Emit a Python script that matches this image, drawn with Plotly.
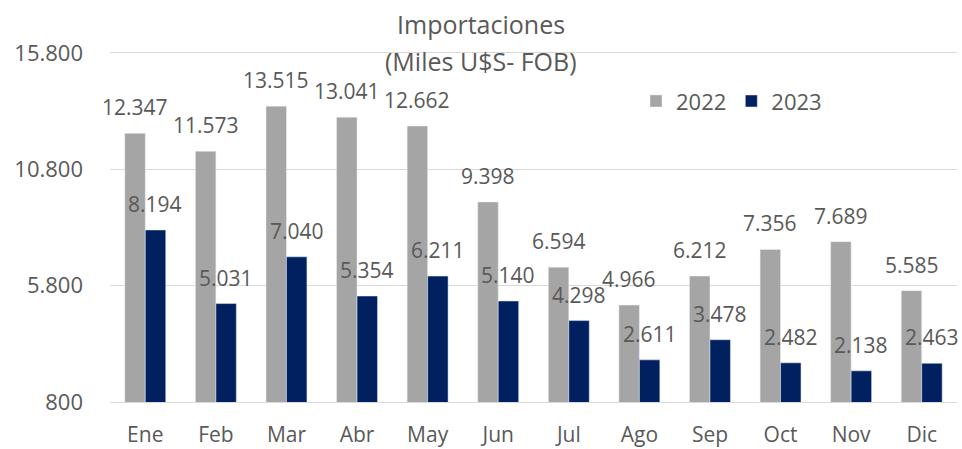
import plotly.graph_objects as go

months = ["Ene", "Feb", "Mar", "Abr", "May", "Jun", "Jul", "Ago", "Sep", "Oct", "Nov", "Dic"]
imp_2022 = [12347, 11573, 13515, 13041, 12662, 9398, 6594, 4966, 6212, 7356, 7689, 5585]
imp_2023 = [8194, 5031, 7040, 5354, 6211, 5140, 4298, 2611, 3478, 2482, 2138, 2463]
y_ticks = [800, 5800, 10800, 15800]

GRAY = "#A5A5A5"
NAVY = "#002060"
TXT = "#595959"
FONT = "Open Sans"

def fmt(v):
    return f"{v:,}".replace(",", ".")

fig = go.Figure()
fig.add_trace(go.Bar(x=months, y=imp_2022, name="2022", marker_color=GRAY,
                     hoverinfo="skip"))
fig.add_trace(go.Bar(x=months, y=imp_2023, name="2023", marker_color=NAVY,
                     hoverinfo="skip"))

annotations = []
for series, shift in ((imp_2022, -10.2), (imp_2023, 10.2)):
    for m, v in zip(months, series):
        annotations.append(dict(x=m, y=v, xref="x", yref="y", text=fmt(v),
                                showarrow=False, xshift=shift, yshift=26,
                                yanchor="middle",
                                font=dict(family=FONT, size=21, color=TXT)))
annotations.append(dict(x=0.4385, y=1.084, xref="paper", yref="paper",
                        text="Importaciones", showarrow=False, yanchor="middle",
                        font=dict(family=FONT, size=25, color=TXT)))
annotations.append(dict(x=0.4385, y=0.977, xref="paper", yref="paper",
                        text="(Miles U$S- FOB)", showarrow=False, yanchor="middle",
                        font=dict(family=FONT, size=25, color=TXT)))

fig.update_layout(
    width=962, height=449,
    margin=dict(l=110, r=5, t=53, b=47),
    paper_bgcolor="white", plot_bgcolor="white",
    separators=",.",
    barmode="group", bargap=0.42, bargroupgap=0,
    showlegend=True,
    legend=dict(orientation="h", x=0.621, y=0.862, xanchor="left", yanchor="middle",
                font=dict(family=FONT, size=22, color=TXT),
                bgcolor="rgba(0,0,0,0)", itemwidth=30),
    annotations=annotations,
    font=dict(family=FONT, color=TXT),
)
fig.update_xaxes(range=[-0.5, len(months) - 0.5], autorange=False,
                 showgrid=False, showline=True, mirror=True,
                 linecolor="#D9D9D9", linewidth=1,
                 ticks="", ticklabelstandoff=14, automargin=False,
                 tickfont=dict(family=FONT, size=21, color=TXT))
fig.update_yaxes(range=[800, 15800], autorange=False, tickvals=y_ticks, tickformat=",",
                 showgrid=True, gridcolor="#D9D9D9", gridwidth=1,
                 zeroline=False, showline=False, ticks="", ticklabelstandoff=26,
                 automargin=False,
                 tickfont=dict(family=FONT, size=22, color=TXT))

fig.write_html("out.html", config={"displayModeBar": False},
               post_script="document.body.style.margin='0';document.body.style.overflow='hidden';")
